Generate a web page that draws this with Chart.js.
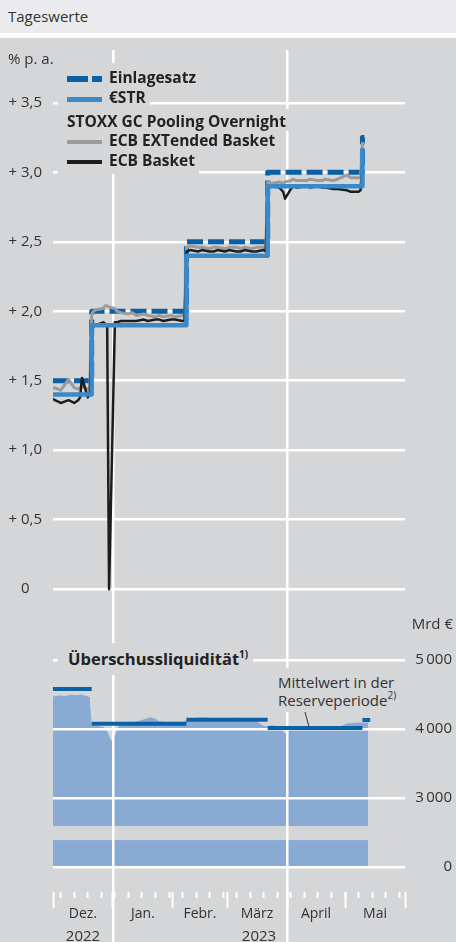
<!DOCTYPE html>
<html lang="de">
<head>
<meta charset="utf-8">
<title>Tageswerte</title>
<script src="https://cdn.jsdelivr.net/npm/chart.js@4.4.1/dist/chart.umd.min.js"></script>
<style>
  html, body { margin: 0; padding: 0; background: #fff; }
  body { position: relative; width: 456px; height: 942px; overflow: hidden; font-family: "Open Sans", sans-serif; color: #333; }
  .head { position: absolute; left: 0; top: 0; width: 456px; height: 33px; background: #ebebed; font-size: 15px; line-height: 33px; padding-left: 8px; box-sizing: border-box; }
  .panel { position: absolute; left: 0; top: 38px; width: 456px; height: 904px; background: #d5d6d8; }
  #upper-wrap { position: absolute; left: 0; top: 38px; width: 456px; height: 572px; }
  #lower-wrap { position: absolute; left: 0; top: 610px; width: 456px; height: 332px; }
  .unit { position: absolute; font-size: 15px; line-height: 18px; white-space: nowrap; }
  .legend { position: absolute; left: 58px; top: 63px; }
  .legend .row { display: table; background: #d5d6d8; padding: 0 4px 0 9px; height: 19px; line-height: 19px; font-size: 15.5px; font-weight: 700; color: #222; white-space: nowrap; }
  .legend .key { display: inline-block; width: 35px; margin-right: 7px; vertical-align: middle; position: relative; top: -1px; }
  .legend .key i { display: inline-block; vertical-align: middle; }
  .box { position: absolute; background: #d5d6d8; white-space: nowrap; }
  sup { font-size: 10px; line-height: 0; vertical-align: 7px; }
</style>
</head>
<body>
<div class="head">Tageswerte</div>
<div class="panel"></div>
<div id="upper-wrap"><canvas id="rates-chart"></canvas></div>
<div id="lower-wrap"><canvas id="liquidity-chart"></canvas></div>

<div class="unit" style="left:8px; top:49px;">% p. a.</div>
<div class="legend">
  <div class="row" style="padding-top:5px;"><span class="key"><i style="width:21px;height:6px;background:#0a5fa5;"></i><i style="width:10px;height:6px;margin-left:4px;background:#0a5fa5;"></i></span>Einlagesatz</div>
  <div class="row"><span class="key"><i style="width:35px;height:5px;background:#3a8ac9;"></i></span>€STR</div>
  <div class="row" style="padding-top:3px;">STOXX GC Pooling Overnight</div>
  <div class="row"><span class="key"><i style="width:35px;height:4px;background:#9b9b9b;"></i></span>ECB EXTended Basket</div>
  <div class="row" style="padding-bottom:3px;"><span class="key"><i style="width:35px;height:4px;background:#1d1d1b;"></i></span>ECB Basket</div>
</div>

<div class="unit" style="right:3px; top:614px;">Mrd €</div>
<div class="box" style="left:58px; top:643px; height:32px; line-height:32px; padding:0 5px 0 10px; font-size:16.5px; font-weight:700; color:#222;">Überschussliquidität<sup>1)</sup></div>
<div class="box" style="left:274px; top:668px; padding:5px 4px 3px 4px; font-size:15px; line-height:18px;">Mittelwert in der<br>Reserveperiode<sup>2)</sup></div>
<svg style="position:absolute; left:0; top:0;" width="456" height="942"><line x1="305" y1="712" x2="309" y2="727" stroke="#333" stroke-width="1"/></svg>

<script>
// Zinssätze in % p. a.; Tage der Zinsänderung
const rateDates = ['2022-12-01', '2022-12-21', '2023-02-08', '2023-03-22', '2023-05-10', '2023-05-11'];
const depositRate = [1.50, 2.00, 2.50, 3.00, 3.25, 3.25];
const estrRate = [1.40, 1.90, 2.40, 2.90, 3.16, 3.16];

// STOXX GC Pooling Overnight
const stoxxDates = [
  '2022-12-01', '2022-12-02', '2022-12-05', '2022-12-07', '2022-12-09', '2022-12-12', '2022-12-14', '2022-12-15',
  '2022-12-16', '2022-12-19', '2022-12-20', '2022-12-21', '2022-12-22', '2022-12-23', '2022-12-27', '2022-12-28',
  '2022-12-29', '2022-12-30', '2023-01-02', '2023-01-03', '2023-01-05', '2023-01-09', '2023-01-11', '2023-01-13',
  '2023-01-17', '2023-01-19', '2023-01-23', '2023-01-25', '2023-01-27', '2023-01-31', '2023-02-02', '2023-02-06',
  '2023-02-07', '2023-02-08', '2023-02-10', '2023-02-14', '2023-02-16', '2023-02-20', '2023-02-22', '2023-02-24',
  '2023-02-28', '2023-03-02', '2023-03-06', '2023-03-08', '2023-03-10', '2023-03-14', '2023-03-16', '2023-03-20',
  '2023-03-21', '2023-03-22', '2023-03-24', '2023-03-28', '2023-03-30', '2023-03-31', '2023-04-03', '2023-04-04',
  '2023-04-06', '2023-04-11', '2023-04-13', '2023-04-17', '2023-04-19', '2023-04-21', '2023-04-25', '2023-04-27',
  '2023-05-02', '2023-05-04', '2023-05-08', '2023-05-09', '2023-05-10', '2023-05-11'
];
const extBasket = [
  1.44, 1.45, 1.43, 1.47, 1.51, 1.45, 1.44, 1.45,
  1.46, 1.44, 1.45, 1.98, 2.00, 2.01, 2.02, 2.04,
  2.04, 2.03, 2.02, 2.00, 1.99, 1.98, 1.99, 1.97,
  1.98, 1.97, 1.96, 1.97, 1.96, 1.97, 1.96, 1.97,
  1.96, 2.46, 2.47, 2.46, 2.46, 2.45, 2.46, 2.46,
  2.45, 2.46, 2.46, 2.45, 2.46, 2.45, 2.46, 2.46,
  2.45, 2.93, 2.92, 2.93, 2.92, 2.93, 2.94, 2.95,
  2.94, 2.94, 2.95, 2.94, 2.94, 2.95, 2.94, 2.95,
  2.98, 2.96, 2.96, 2.96, 3.21, 3.20
];
const ecbBasket = [
  1.37, 1.36, 1.34, 1.35, 1.36, 1.34, 1.36, 1.38,
  1.52, 1.38, 1.40, 1.88, 1.89, 1.90, 1.92, 1.91,
  1.90, 0.00, 1.92, 1.92, 1.93, 1.93, 1.93, 1.93,
  1.94, 1.93, 1.94, 1.94, 1.93, 1.94, 1.94, 1.93,
  1.93, 2.43, 2.44, 2.43, 2.44, 2.43, 2.43, 2.44,
  2.43, 2.44, 2.43, 2.43, 2.44, 2.43, 2.43, 2.44,
  2.43, 2.90, 2.90, 2.89, 2.86, 2.81, 2.88, 2.90,
  2.89, 2.90, 2.89, 2.90, 2.89, 2.89, 2.88, 2.88,
  2.87, 2.86, 2.86, 2.87, 3.08, 3.07
];

// Überschussliquidität in Mrd €
const liquidityDates = [
  '2022-12-01', '2022-12-04', '2022-12-07', '2022-12-10', '2022-12-13', '2022-12-16', '2022-12-19', '2022-12-20',
  '2022-12-21', '2022-12-24', '2022-12-27', '2022-12-29', '2022-12-31', '2023-01-02', '2023-01-04', '2023-01-08',
  '2023-01-12', '2023-01-16', '2023-01-20', '2023-01-23', '2023-01-25', '2023-01-29', '2023-02-02', '2023-02-06',
  '2023-02-09', '2023-02-13', '2023-02-17', '2023-02-21', '2023-02-25', '2023-03-01', '2023-03-05', '2023-03-09',
  '2023-03-13', '2023-03-16', '2023-03-19', '2023-03-21', '2023-03-24', '2023-03-27', '2023-03-29', '2023-03-31',
  '2023-04-02', '2023-04-06', '2023-04-10', '2023-04-14', '2023-04-18', '2023-04-22', '2023-04-26', '2023-04-29',
  '2023-05-02', '2023-05-06', '2023-05-09', '2023-05-13'
];
const excessLiquidity = [
  4470, 4485, 4480, 4495, 4490, 4500, 4470, 4460,
  4050, 4045, 4030, 3970, 3830, 3900, 4050, 4080,
  4100, 4130, 4170, 4150, 4110, 4100, 4105, 4100,
  4145, 4165, 4170, 4160, 4155, 4160, 4165, 4160,
  4150, 4120, 4060, 4035, 4055, 4040, 4000, 3930,
  3985, 4005, 4000, 4010, 4000, 4010, 4020, 4045,
  4080, 4090, 4095, 4090
];

// Mittelwert in der Reserveperiode
const periodStarts = ['2022-12-01', '2022-12-21', '2023-02-08', '2023-03-22', '2023-05-10'];
const periodEnds = ['2022-12-21', '2023-02-08', '2023-03-22', '2023-05-10', '2023-05-14'];
const periodMeans = [4580, 4075, 4135, 4015, 4130];

// Achsen
const rateTicks = [0, 0.5, 1, 1.5, 2, 2.5, 3, 3.5];
const rateTickLabels = ['0', '+ 0,5', '+ 1,0', '+ 1,5', '+ 2,0', '+ 2,5', '+ 3,0', '+ 3,5'];
const liquidityTicks = [2000, 3000, 4000, 5000];   // 2000 = Achsenbruch, steht für 0
const liquidityTickLabels = ['0', '3\u2009000', '4\u2009000', '5\u2009000'];
const gridDates = ['2023-01-01', '2023-04-01'];
const monthStarts = ['2022-12-01', '2023-01-01', '2023-02-01', '2023-03-01', '2023-04-01', '2023-05-01', '2023-06-01'];
const monthLabels = ['Dez.', 'Jan.', 'Febr.', 'März', 'April', 'Mai'];
const weekTicks = [
  '2022-12-05', '2022-12-12', '2022-12-19', '2022-12-26', '2023-01-02', '2023-01-09', '2023-01-16', '2023-01-23',
  '2023-01-30', '2023-02-06', '2023-02-13', '2023-02-20', '2023-02-27', '2023-03-06', '2023-03-13', '2023-03-20',
  '2023-03-27', '2023-04-03', '2023-04-10', '2023-04-17', '2023-04-24', '2023-05-01', '2023-05-08', '2023-05-15',
  '2023-05-22', '2023-05-29'
];
const yearLabels = ['2022', '2023'];
const yearSpans = [['2022-12-01', '2023-01-01'], ['2023-01-01', '2023-06-01']];

const panelColor = '#d5d6d8';
const refDay = Date.UTC(2022, 11, 1);

function dayIndex(s) {
  const [y, m, d] = s.split('-').map(Number);
  return (Date.UTC(y, m - 1, d) - refDay) / 86400000;
}

function toPoints(dates, values) {
  return dates.map((d, i) => ({ x: dayIndex(d), y: values[i] }));
}

function meanPoints() {
  const pts = [];
  periodStarts.forEach((s, i) => {
    pts.push({ x: dayIndex(s), y: periodMeans[i] });
    pts.push({ x: dayIndex(periodEnds[i]), y: periodMeans[i] });
    pts.push({ x: dayIndex(periodEnds[i]), y: null });
  });
  return pts;
}

function setTicks(values) {
  return scale => { scale.ticks = values.map(v => ({ value: v })); };
}

const xMin = 0;
const xMax = dayIndex('2023-06-01');
const monthMids = monthLabels.map((m, i) => (dayIndex(monthStarts[i]) + dayIndex(monthStarts[i + 1])) / 2);
const yearMids = yearSpans.map(s => (dayIndex(s[0]) + dayIndex(s[1])) / 2);

Chart.defaults.font.family = '"Open Sans", sans-serif';
Chart.defaults.font.size = 14;
Chart.defaults.color = '#333';
Chart.defaults.animation = false;

const whiteGrid = { color: '#fff', lineWidth: 2.5, drawTicks: false };

// oberer Teil: Zinssätze
new Chart(document.getElementById('rates-chart'), {
  type: 'line',
  data: {
    datasets: [
      { label: '€STR', data: toPoints(rateDates, estrRate), borderColor: '#3a8ac9', borderWidth: 4.5, stepped: true, order: 1 },
      { label: 'ECB Basket', data: toPoints(stoxxDates, ecbBasket), borderColor: '#1d1d1b', borderWidth: 2.5, order: 2 },
      { label: 'ECB EXTended Basket', data: toPoints(stoxxDates, extBasket), borderColor: '#9b9b9b', borderWidth: 3, order: 3 },
      { label: 'Einlagesatz', data: toPoints(rateDates, depositRate), borderColor: '#0a5fa5', borderWidth: 5, borderDash: [16, 5], borderCapStyle: 'butt', stepped: true, order: 4 }
    ]
  },
  options: {
    responsive: true,
    maintainAspectRatio: false,
    layout: { padding: { top: 12, left: 8, right: 51, bottom: 0 } },
    elements: { point: { radius: 0 }, line: { borderJoinStyle: 'round', tension: 0 } },
    plugins: { legend: { display: false }, tooltip: { enabled: false } },
    scales: {
      x: {
        type: 'linear', min: xMin, max: xMax,
        afterBuildTicks: setTicks(gridDates.map(dayIndex)),
        grid: whiteGrid, border: { display: false }, ticks: { display: false }
      },
      y: {
        min: -0.15, max: 3.88,
        afterBuildTicks: setTicks(rateTicks),
        afterFit: s => { s.width = 45; s.paddingTop = 0; s.paddingBottom = 0; },
        grid: whiteGrid, border: { display: false },
        ticks: { padding: 11, crossAlign: 'center', font: { size: 15 }, callback: (v, i) => rateTickLabels[i] }
      }
    }
  }
});

// Achsenbruch zwischen 0 und 3000
const axisBreak = {
  id: 'axisBreak',
  beforeDraw(chart) {
    const { ctx, chartArea, scales } = chart;
    const top = scales.y.getPixelForValue(2595);
    const bottom = scales.y.getPixelForValue(2390);
    ctx.save();
    ctx.fillStyle = panelColor;
    ctx.fillRect(chartArea.left, top, chartArea.width, bottom - top);
    ctx.restore();
  }
};

const tickRow = { y: 1638 };

// unterer Teil: Überschussliquidität
new Chart(document.getElementById('liquidity-chart'), {
  type: 'line',
  data: {
    datasets: [
      { label: 'Mittelwert in der Reserveperiode', data: meanPoints(), borderColor: '#0b61a6', borderWidth: 4, borderCapStyle: 'butt', spanGaps: false, fill: false },
      { label: 'Überschussliquidität', data: toPoints(liquidityDates, excessLiquidity), borderWidth: 0, backgroundColor: '#89aad3', fill: { value: 2000 } }
    ]
  },
  options: {
    responsive: true,
    maintainAspectRatio: false,
    layout: { padding: { top: 0, left: 53, right: 4, bottom: 0 } },
    elements: { point: { radius: 0 }, line: { tension: 0 } },
    plugins: { legend: { display: false }, tooltip: { enabled: false }, filler: { drawTime: 'beforeDraw' } },
    scales: {
      x: {
        type: 'linear', min: xMin, max: xMax,
        afterBuildTicks: setTicks(gridDates.map(dayIndex)),
        grid: whiteGrid, border: { display: false }, ticks: { display: false }
      },
      xWeeks: {
        axis: 'x', type: 'linear', min: xMin, max: xMax, position: tickRow,
        afterBuildTicks: setTicks(weekTicks.map(dayIndex)),
        grid: { drawOnChartArea: false, drawTicks: true, tickLength: 6, tickWidth: 2, tickColor: '#fff' },
        border: { display: false }, ticks: { display: false }
      },
      xMonthTicks: {
        axis: 'x', type: 'linear', min: xMin, max: xMax, position: tickRow,
        afterBuildTicks: setTicks(monthStarts.map(dayIndex)),
        grid: { drawOnChartArea: false, drawTicks: true, tickLength: 16, tickWidth: 2, tickColor: '#fff' },
        border: { display: false }, ticks: { display: false }
      },
      xMonths: {
        axis: 'x', type: 'linear', min: xMin, max: xMax, position: tickRow,
        afterBuildTicks: setTicks(monthMids),
        grid: { display: false }, border: { display: false },
        ticks: { padding: 6, maxRotation: 0, callback: (v, i) => monthLabels[i] }
      },
      xYears: {
        axis: 'x', type: 'linear', min: xMin, max: xMax, position: tickRow,
        afterBuildTicks: setTicks(yearMids),
        grid: { display: false }, border: { display: false },
        ticks: { padding: 28, maxRotation: 0, font: { size: 15 }, callback: (v, i) => yearLabels[i] }
      },
      y: {
        position: 'right', min: 913, max: 5725,
        afterBuildTicks: setTicks(liquidityTicks),
        afterFit: s => { s.width = 47; s.paddingTop = 0; s.paddingBottom = 0; },
        grid: whiteGrid, border: { display: false },
        ticks: { padding: 9, crossAlign: 'far', font: { size: 15 }, callback: (v, i) => liquidityTickLabels[i] }
      }
    }
  },
  plugins: [axisBreak]
});
</script>
</body>
</html>
